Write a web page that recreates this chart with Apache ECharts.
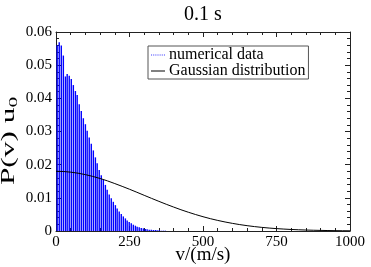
<!DOCTYPE html>
<html><head><meta charset="utf-8">
<script src="https://cdn.jsdelivr.net/npm/echarts@6/dist/echarts.min.js"></script>
<style>html,body{margin:0;padding:0;background:#fff}#c{width:371px;height:267px}</style>
</head><body><div id="c"></div>
<script>
// numerical data: bin centres (m/s) and values
const binV = [4, 11, 18, 25, 32, 38, 45, 52, 59, 66, 72, 79, 86, 93, 100, 106, 113, 120, 127, 134,
  140, 147, 154, 161, 168, 174, 181, 188, 195, 202, 208, 215, 222, 229, 236, 242, 249, 256, 263, 270,
  276, 283, 290, 297, 304, 310, 317, 324, 331, 338, 344, 351, 358, 365, 372];
const binP = [0.0560, 0.0569, 0.0559, 0.0529, 0.0466, 0.0473, 0.0468, 0.0458, 0.0440, 0.0422,
  0.0410, 0.0382, 0.0362, 0.0340, 0.0322, 0.0302, 0.0282, 0.0263, 0.0243, 0.0222,
  0.0204, 0.0184, 0.0168, 0.0154, 0.0139, 0.0124, 0.0110, 0.0099, 0.0088, 0.0078,
  0.0068, 0.0059, 0.0051, 0.0044, 0.0038, 0.0032, 0.0027, 0.0023, 0.0019, 0.0016,
  0.0013, 0.0011, 0.0009, 0.0008, 0.0006, 0.0005, 0.0004, 0.0004, 0.0003, 0.0003,
  0.0002, 0.0002, 0.0001, 0.0001, 0.0001];
// Gaussian distribution curve
const gaussV = [0, 25, 50, 75, 100, 125, 150, 175, 200, 225, 250, 275, 300, 325, 350, 375, 400, 425, 450, 475,
  500, 525, 550, 575, 600, 625, 650, 675, 700, 725, 750, 775, 800, 825, 850, 875, 900, 925, 950, 975, 1000];
const gaussP = [0.0180, 0.01794, 0.01774, 0.01743, 0.01700, 0.01646, 0.01583, 0.01511, 0.01430, 0.01346,
  0.01259, 0.01168, 0.01076, 0.00984, 0.00894, 0.00806, 0.00722, 0.00641, 0.00566, 0.00496,
  0.00431, 0.00372, 0.00319, 0.00272, 0.00230, 0.00193, 0.00161, 0.00133, 0.00109, 0.00089,
  0.00072, 0.00058, 0.00046, 0.00037, 0.00029, 0.00023, 0.00018, 0.00014, 0.00010, 0.00008, 0.00006];
const xTicks = [0, 250, 500, 750, 1000];
const yTicks = [0, 0.01, 0.02, 0.03, 0.04, 0.05, 0.06];

const FONT = "'Liberation Serif','DejaVu Serif',serif";
const chart = echarts.init(document.getElementById('c'), null, {renderer: 'canvas'});
function axisCommon() {
  return {
    axisLine: {show: true, onZero: false, lineStyle: {color: '#222', width: 1}},
    axisTick: {show: true, inside: true, length: 5, lineStyle: {color: '#222'}},
    minorTick: {show: true, splitNumber: 5, length: 3, lineStyle: {color: '#222'}},
    splitLine: {show: false},
    nameMoveOverlap: false
  };
}
chart.setOption({
  animation: false,
  backgroundColor: '#fff',
  title: {text: '0.1 s', left: 198, top: 0, textAlign: 'center',
    textStyle: {fontFamily: FONT, fontSize: 20, fontWeight: 'normal', color: '#000'}},
  grid: {left: 56, right: 21, top: 32, bottom: 36, containLabel: false, outerBoundsMode: 'none'},
  legend: {
    orient: 'vertical', left: 148, top: 46, padding: [1, 3, 0, 3], itemGap: 0,
    itemWidth: 14, itemHeight: 1, symbolKeepAspect: false,
    borderColor: '#555', borderWidth: 1, backgroundColor: '#fff',
    textStyle: {fontFamily: FONT, fontSize: 16, color: '#000', lineHeight: 14, padding: [0, 0, 0, -1]},
    data: [
      {name: 'numerical data', icon: 'path://M0 0H1V1H0ZM2 0H3V1H2ZM4 0H5V1H4ZM6 0H7V1H6ZM8 0H9V1H8ZM10 0H11V1H10ZM12 0H13V1H12Z', itemStyle: {color: '#4040ff'}},
      {name: 'Gaussian distribution', icon: 'rect', itemStyle: {color: '#000'}}
    ]
  },
  graphic: [{
    type: 'text', x: 9, y: 141, rotation: Math.PI / 2, scaleX: 1.65, scaleY: 1,
    style: {text: '{a|P(v) u}{b|0}', align: 'center', verticalAlign: 'middle', fill: '#000',
      font: '19px ' + FONT,
      rich: {a: {fontFamily: FONT, fontSize: 19, fill: '#000', color: '#000'},
             b: {fontFamily: FONT, fontSize: 13, fill: '#000', color: '#000', padding: [9, 0, 0, 0]}}}
  }],
  xAxis: [
    Object.assign(axisCommon(), {type: 'value', min: xTicks[0], max: xTicks[xTicks.length - 1], interval: 250,
      name: 'v/(m/s)', nameLocation: 'middle', nameGap: 15,
      nameTextStyle: {fontFamily: FONT, fontSize: 19, color: '#000', verticalAlign: 'top'},
      axisLabel: {fontFamily: FONT, fontSize: 15, color: '#000', margin: 4, formatter: v => String(v)}}),
    Object.assign(axisCommon(), {type: 'value', position: 'top', min: 0, max: 1000, interval: 250,
      axisLabel: {show: false}})
  ],
  yAxis: [
    Object.assign(axisCommon(), {type: 'value', min: yTicks[0], max: yTicks[yTicks.length - 1], interval: 0.01,
      axisLabel: {fontFamily: FONT, fontSize: 15, color: '#000', margin: 4,
        formatter: v => (v === 0 ? '0' : v.toFixed(2))}}),
    Object.assign(axisCommon(), {type: 'value', position: 'right', min: 0, max: 0.06, interval: 0.01,
      axisLabel: {show: false}})
  ],
  series: [
    {name: 'numerical data', type: 'bar', xAxisIndex: 0, yAxisIndex: 0, barWidth: 1.4,
      itemStyle: {color: '#0000ff'}, data: binV.map((v, i) => [v, binP[i]])},
    {name: 'Gaussian distribution', type: 'line', xAxisIndex: 0, yAxisIndex: 0, showSymbol: false,
      symbol: 'none', lineStyle: {color: '#000', width: 1}, data: gaussV.map((v, i) => [v, gaussP[i]])}
  ]
});
</script></body></html>
